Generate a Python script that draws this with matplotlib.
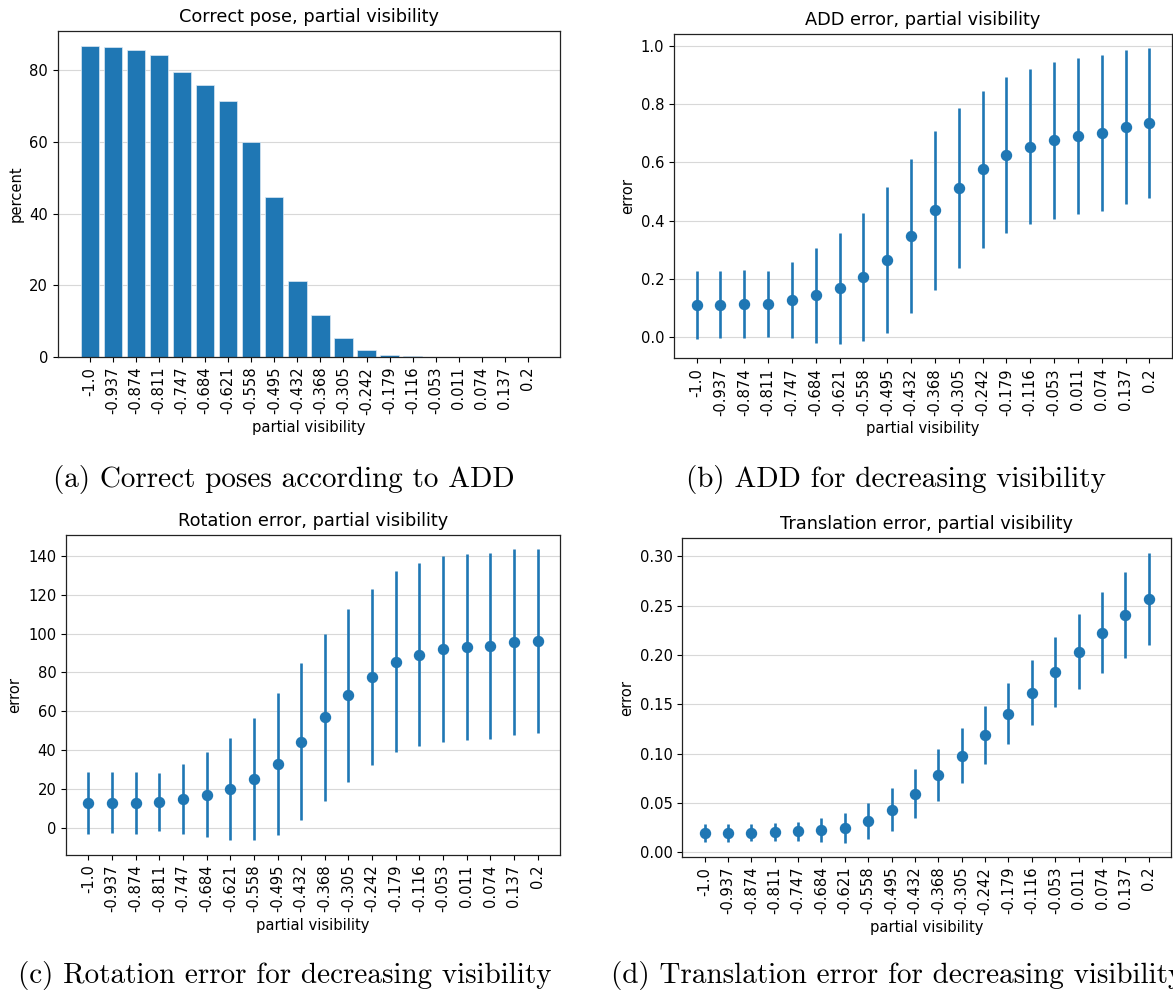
import matplotlib
matplotlib.use("Agg")
import matplotlib.pyplot as plt
import numpy as np

# partial visibility bins (tick labels)
visibility = ["-1.0", "-0.937", "-0.874", "-0.811", "-0.747", "-0.684", "-0.621",
              "-0.558", "-0.495", "-0.432", "-0.368", "-0.305", "-0.242", "-0.179",
              "-0.116", "-0.053", "0.011", "0.074", "0.137", "0.2"]

# (a) percentage of correct poses according to ADD
correct_pct = [86.7, 86.6, 85.7, 84.3, 79.5, 75.8, 71.5, 59.9, 44.5, 21.2,
               11.8, 5.2, 2.0, 0.65, 0.3, 0.0, 0.0, 0.0, 0.0, 0.0]

# (b) ADD error: mean and standard deviation
add_mean = [0.110, 0.110, 0.111, 0.113, 0.126, 0.143, 0.166, 0.205, 0.264, 0.347,
            0.435, 0.513, 0.576, 0.626, 0.655, 0.676, 0.691, 0.702, 0.722, 0.736]
add_std = [0.117, 0.116, 0.117, 0.113, 0.132, 0.164, 0.190, 0.220, 0.250, 0.265,
           0.274, 0.275, 0.270, 0.270, 0.268, 0.270, 0.270, 0.270, 0.266, 0.257]

# (c) rotation error: mean and standard deviation
rot_mean = [12.8, 12.8, 12.8, 13.2, 14.7, 17.1, 20.0, 25.0, 33.0, 44.4,
            56.8, 68.2, 77.6, 85.5, 89.1, 92.0, 93.0, 93.5, 95.4, 96.1]
rot_std = [15.9, 15.7, 15.8, 15.1, 17.9, 22.1, 26.4, 31.3, 36.6, 40.2,
           42.9, 44.4, 45.1, 46.6, 47.0, 47.9, 48.0, 48.0, 47.9, 47.3]

# (d) translation error: mean and standard deviation
trans_mean = [0.0199, 0.0199, 0.0202, 0.0206, 0.0213, 0.0226, 0.0250, 0.0321, 0.0435, 0.0597,
              0.0786, 0.0982, 0.1191, 0.1407, 0.1620, 0.1829, 0.2035, 0.2227, 0.2406, 0.2572]
trans_std = [0.0090, 0.0090, 0.0086, 0.0089, 0.0096, 0.0120, 0.0149, 0.0182, 0.0218, 0.0245,
             0.0263, 0.0278, 0.0292, 0.0307, 0.0329, 0.0354, 0.0383, 0.0412, 0.0439, 0.0466]

captions = ["(a) Correct poses according to ADD",
            "(b) ADD for decreasing visibility",
            "(c) Rotation error for decreasing visibility",
            "(d) Translation error for decreasing visibility"]

BLUE = "#1f77b4"
TICK_FS = 10.6
LABEL_FS = 10.6
TITLE_FS = 12.8

W, H = 1173, 996
fig = plt.figure(figsize=(W / 100, H / 100), dpi=100)


def px_axes(left, top, right, bottom):
    return fig.add_axes([left / W, 1 - bottom / H, (right - left) / W, (bottom - top) / H])


def style(ax, title, ylabel):
    ax.set_title(title, fontsize=TITLE_FS, pad=6.5)
    ax.set_xlabel("partial visibility", fontsize=LABEL_FS, labelpad=4)
    ax.set_ylabel(ylabel, fontsize=LABEL_FS)
    ax.set_xticks(np.arange(len(visibility)))
    ax.set_xticklabels(visibility, rotation=90)
    ax.tick_params(labelsize=TICK_FS, length=3.5, width=0.8)
    ax.yaxis.grid(True, color="#d8d8d8", linewidth=0.8)
    ax.set_axisbelow(True)
    for s in ax.spines.values():
        s.set_linewidth(0.9)
        s.set_color("#222222")


x = np.arange(len(visibility))

# (a) bar chart
ax_a = px_axes(57.7, 30.7, 560, 357)
ax_a.bar(x, correct_pct, width=0.8, color=BLUE, edgecolor="#dce9f4", linewidth=0.5)
style(ax_a, "Correct pose, partial visibility", "percent")
ax_a.set_yticks([0, 20, 40, 60, 80])


def err_plot(ax, mean, std):
    ax.errorbar(x, mean, yerr=std, fmt="o", color=BLUE, ms=7.2, elinewidth=1.9,
                capsize=0)


# (b) ADD error
ax_b = px_axes(674, 33.7, 1172, 358.3)
err_plot(ax_b, add_mean, add_std)
style(ax_b, "ADD error, partial visibility", "error")
ax_b.set_yticks([0.0, 0.2, 0.4, 0.6, 0.8, 1.0])

# (c) rotation error
ax_c = px_axes(66, 534.7, 560, 854.7)
err_plot(ax_c, rot_mean, rot_std)
style(ax_c, "Rotation error, partial visibility", "error")
ax_c.set_yticks([0, 20, 40, 60, 80, 100, 120, 140])

# (d) translation error
ax_d = px_axes(682.3, 538, 1171, 857)
err_plot(ax_d, trans_mean, trans_std)
style(ax_d, "Translation error, partial visibility", "error")
ax_d.set_yticks([0.0, 0.05, 0.10, 0.15, 0.20, 0.25, 0.30])
ax_d.set_yticklabels(["0.00", "0.05", "0.10", "0.15", "0.20", "0.25", "0.30"])

# sub-figure captions (the last one runs past the right edge of the page)
cap_pos = [(284, 480), (896, 480), (285, 975), (897, 975)]
for (cx, cy), cap in zip(cap_pos, captions):
    fig.text(cx / W, 1 - cy / H, cap, ha="center", va="center",
             fontsize=21, family="cmr10")

fig.savefig("out.png", dpi=100)
